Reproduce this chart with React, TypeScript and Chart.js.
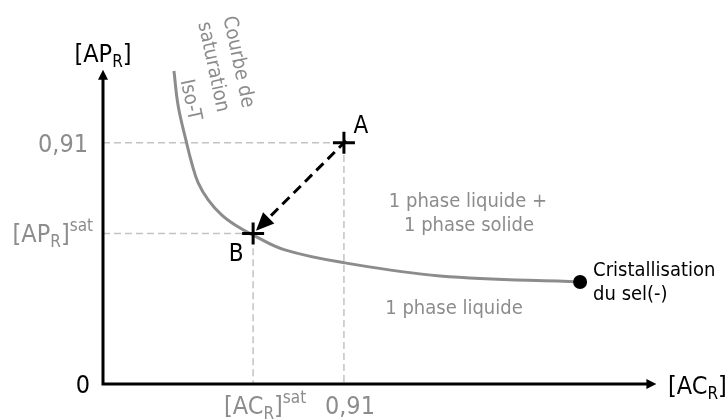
import { useEffect, useRef } from "react";
import { Chart, registerables } from "chart.js";

Chart.register(...registerables);

// ---- data ----
const CURVE_X = [0.268, 0.284, 0.316, 0.335, 0.36, 0.398, 0.448, 0.499, 0.567, 0.687, 0.914, 1.273, 1.802];
const CURVE_Y = [1.181, 1.049, 0.909, 0.834, 0.758, 0.694, 0.638, 0.6, 0.562, 0.506, 0.457, 0.408, 0.385];
const POINT_A = { x: 0.91, y: 0.91 };
const POINT_B = { x: 0.567, y: 0.568 };
const END_POINT = { x: 1.802, y: 0.385 };
const X_AXIS_END = 2.09;
const Y_AXIS_END = 1.186;
const X_MAX = 2.1;
const Y_MAX = 1.2;

const TICK_091 = "0,91";
const TICK_ZERO = "0";
const CURVE_TITLE = ["Courbe de", "saturation", "Iso-T"];
const REGION_TOP = ["1 phase liquide +", "1 phase solide"];
const REGION_BOTTOM = "1 phase liquide";
const END_LABEL = ["Cristallisation", "du sel(-)"];

const FONT = "'DejaVu Sans Condensed', 'DejaVu Sans', sans-serif";
const GRAY_TEXT = "#8c8c8c";
const CURVE_COLOR = "#8c8c8c";
const GUIDE_COLOR = "#c3c3c3";

type Seg = { t: string; s: number; dy?: number };

function rich(ctx: CanvasRenderingContext2D, segs: Seg[], x: number, y: number, align: "left" | "center" | "right", color: string) {
  let w = 0;
  for (const g of segs) {
    ctx.font = `${g.s}px ${FONT}`;
    w += ctx.measureText(g.t).width;
  }
  let cx = align === "left" ? x : align === "center" ? x - w / 2 : x - w;
  ctx.fillStyle = color;
  ctx.textAlign = "left";
  ctx.textBaseline = "alphabetic";
  for (const g of segs) {
    ctx.font = `${g.s}px ${FONT}`;
    ctx.fillText(g.t, cx, y + (g.dy || 0));
    cx += ctx.measureText(g.t).width;
  }
}

const decorPlugin = {
  id: "decor",
  afterDatasetsDraw(chart: any) {
    const ctx: CanvasRenderingContext2D = chart.ctx;
    const xs = chart.scales.x;
    const ys = chart.scales.y;
    const X = (v: number) => xs.getPixelForValue(v);
    const Y = (v: number) => ys.getPixelForValue(v);
    ctx.save();

    // axes
    const ox = X(0), oy = Y(0);
    const xe = X(X_AXIS_END), ye = Y(Y_AXIS_END);
    ctx.strokeStyle = "#000";
    ctx.lineWidth = 3;
    ctx.lineJoin = "miter";
    ctx.setLineDash([]);
    ctx.beginPath();
    ctx.moveTo(ox, ye + 6);
    ctx.lineTo(ox, oy);
    ctx.lineTo(xe - 6, oy);
    ctx.stroke();
    ctx.fillStyle = "#000";
    ctx.beginPath();
    ctx.moveTo(ox, ye);
    ctx.lineTo(ox - 5, ye + 10);
    ctx.lineTo(ox + 5, ye + 10);
    ctx.closePath();
    ctx.fill();
    ctx.beginPath();
    ctx.moveTo(xe, oy);
    ctx.lineTo(xe - 10, oy - 5);
    ctx.lineTo(xe - 10, oy + 5);
    ctx.closePath();
    ctx.fill();

    // A -> B arrow
    const ax = X(POINT_A.x), ay = Y(POINT_A.y);
    const bx = X(POINT_B.x), by = Y(POINT_B.y);
    const dx = bx - ax, dy = by - ay;
    const len = Math.hypot(dx, dy);
    const ux = dx / len, uy = dy / len;
    const tipX = bx - ux * 4, tipY = by - uy * 4;
    const headLen = 18, headW = 8;
    const baseX = tipX - ux * headLen, baseY = tipY - uy * headLen;
    ctx.lineWidth = 3;
    ctx.setLineDash([10, 6]);
    ctx.beginPath();
    ctx.moveTo(ax - ux * 3, ay - uy * 3);
    ctx.lineTo(baseX + ux * 2, baseY + uy * 2);
    ctx.stroke();
    ctx.setLineDash([]);
    ctx.beginPath();
    ctx.moveTo(tipX, tipY);
    ctx.lineTo(baseX - uy * headW, baseY + ux * headW);
    ctx.lineTo(baseX + uy * headW, baseY - ux * headW);
    ctx.closePath();
    ctx.fill();

    // crosses at A and B
    ctx.lineWidth = 3;
    ctx.strokeStyle = "#000";
    for (const [px, py] of [[ax, ay], [bx, by]]) {
      ctx.beginPath();
      ctx.moveTo(px - 11, py);
      ctx.lineTo(px + 11, py);
      ctx.moveTo(px, py - 11);
      ctx.lineTo(px, py + 11);
      ctx.stroke();
    }

    // axis titles
    rich(ctx, [{ t: "[AP", s: 25 }, { t: "R", s: 17, dy: 5 }, { t: "]", s: 25 }], ox, 62, "center", "#000");
    rich(ctx, [{ t: "[AC", s: 25 }, { t: "R", s: 17, dy: 5 }, { t: "]", s: 25 }], 668, 394, "left", "#000");

    // y labels
    rich(ctx, [{ t: TICK_091, s: 25 }], 88, Y(POINT_A.y) + 9, "right", GRAY_TEXT);
    rich(ctx, [{ t: "[AP", s: 25 }, { t: "R", s: 17, dy: 5 }, { t: "]", s: 25 }, { t: "sat", s: 17, dy: -11 }], 93, Y(POINT_B.y) + 9, "right", GRAY_TEXT);
    rich(ctx, [{ t: TICK_ZERO, s: 25 }], 90, oy + 9, "right", "#000");

    // x labels
    rich(ctx, [{ t: "[AC", s: 25 }, { t: "R", s: 17, dy: 5 }, { t: "]", s: 25 }, { t: "sat", s: 17, dy: -11 }], X(POINT_B.x) + 12, 414, "center", GRAY_TEXT);
    rich(ctx, [{ t: TICK_091, s: 25 }], X(POINT_A.x) + 6, 414, "center", GRAY_TEXT);

    // point labels
    rich(ctx, [{ t: "A", s: 24 }], ax + 17, ay - 10, "center", "#000");
    rich(ctx, [{ t: "B", s: 24 }], bx - 17, by + 28, "center", "#000");

    // region labels
    rich(ctx, [{ t: REGION_TOP[0], s: 20 }], 468, 207, "center", GRAY_TEXT);
    rich(ctx, [{ t: REGION_TOP[1], s: 20 }], 469, 231, "center", GRAY_TEXT);
    rich(ctx, [{ t: REGION_BOTTOM, s: 20 }], 454, 314, "center", GRAY_TEXT);
    rich(ctx, [{ t: END_LABEL[0], s: 20 }], X(END_POINT.x) + 13, 276, "left", "#000");
    rich(ctx, [{ t: END_LABEL[1], s: 20 }], X(END_POINT.x) + 13, 300, "left", "#000");

    // rotated curve title
    const centers = [[238, 62], [213, 67], [190, 100]];
    ctx.fillStyle = GRAY_TEXT;
    ctx.font = `20px ${FONT}`;
    ctx.textAlign = "center";
    ctx.textBaseline = "middle";
    CURVE_TITLE.forEach((t, i) => {
      ctx.save();
      ctx.translate(centers[i][0], centers[i][1]);
      ctx.rotate((78 * Math.PI) / 180);
      ctx.fillText(t, 0, 0);
      ctx.restore();
    });

    ctx.restore();
  },
};

export default function App() {
  const ref = useRef<HTMLCanvasElement | null>(null);
  useEffect(() => {
    if (!ref.current) return;
    const curve = CURVE_X.map((x, i) => ({ x, y: CURVE_Y[i] }));
    const chart = new Chart(ref.current, {
      type: "scatter",
      data: {
        datasets: [
          {
            order: 5,
            data: [{ x: 0, y: POINT_A.y }, { x: POINT_A.x, y: POINT_A.y }, { x: POINT_A.x, y: 0 }],
            showLine: true,
            borderColor: GUIDE_COLOR,
            borderWidth: 1.5,
            borderDash: [7, 4],
            pointRadius: 0,
            fill: false,
          },
          {
            order: 5,
            data: [{ x: 0, y: POINT_B.y }, { x: POINT_B.x, y: POINT_B.y }, { x: POINT_B.x, y: 0 }],
            showLine: true,
            borderColor: GUIDE_COLOR,
            borderWidth: 1.5,
            borderDash: [7, 4],
            pointRadius: 0,
            fill: false,
          },
          {
            order: 3,
            data: curve,
            showLine: true,
            borderColor: CURVE_COLOR,
            borderWidth: 3,
            tension: 0.4,
            pointRadius: 0,
            fill: false,
          },
          {
            order: 1,
            data: [END_POINT],
            pointRadius: 7,
            backgroundColor: "#000",
            borderColor: "#000",
            pointBackgroundColor: "#000",
            pointBorderColor: "#000",
            pointBorderWidth: 0,
          },
        ],
      } as any,
      options: {
        animation: false,
        responsive: false,
        maintainAspectRatio: false,
        layout: { padding: { left: 103, right: 69, top: 66, bottom: 35 } },
        plugins: { legend: { display: false }, tooltip: { enabled: false } },
        events: [],
        scales: {
          x: { type: "linear", min: 0, max: X_MAX, display: false },
          y: { type: "linear", min: 0, max: Y_MAX, display: false },
        },
        elements: { line: { borderCapStyle: "butt" } },
      } as any,
      plugins: [decorPlugin],
    });
    return () => chart.destroy();
  }, []);
  return (
    <div style={{ position: "fixed", left: 0, top: 0, width: 728, height: 419, background: "#fff" }}>
      <canvas ref={ref} width={728} height={419} style={{ width: 728, height: 419 }} />
    </div>
  );
}
